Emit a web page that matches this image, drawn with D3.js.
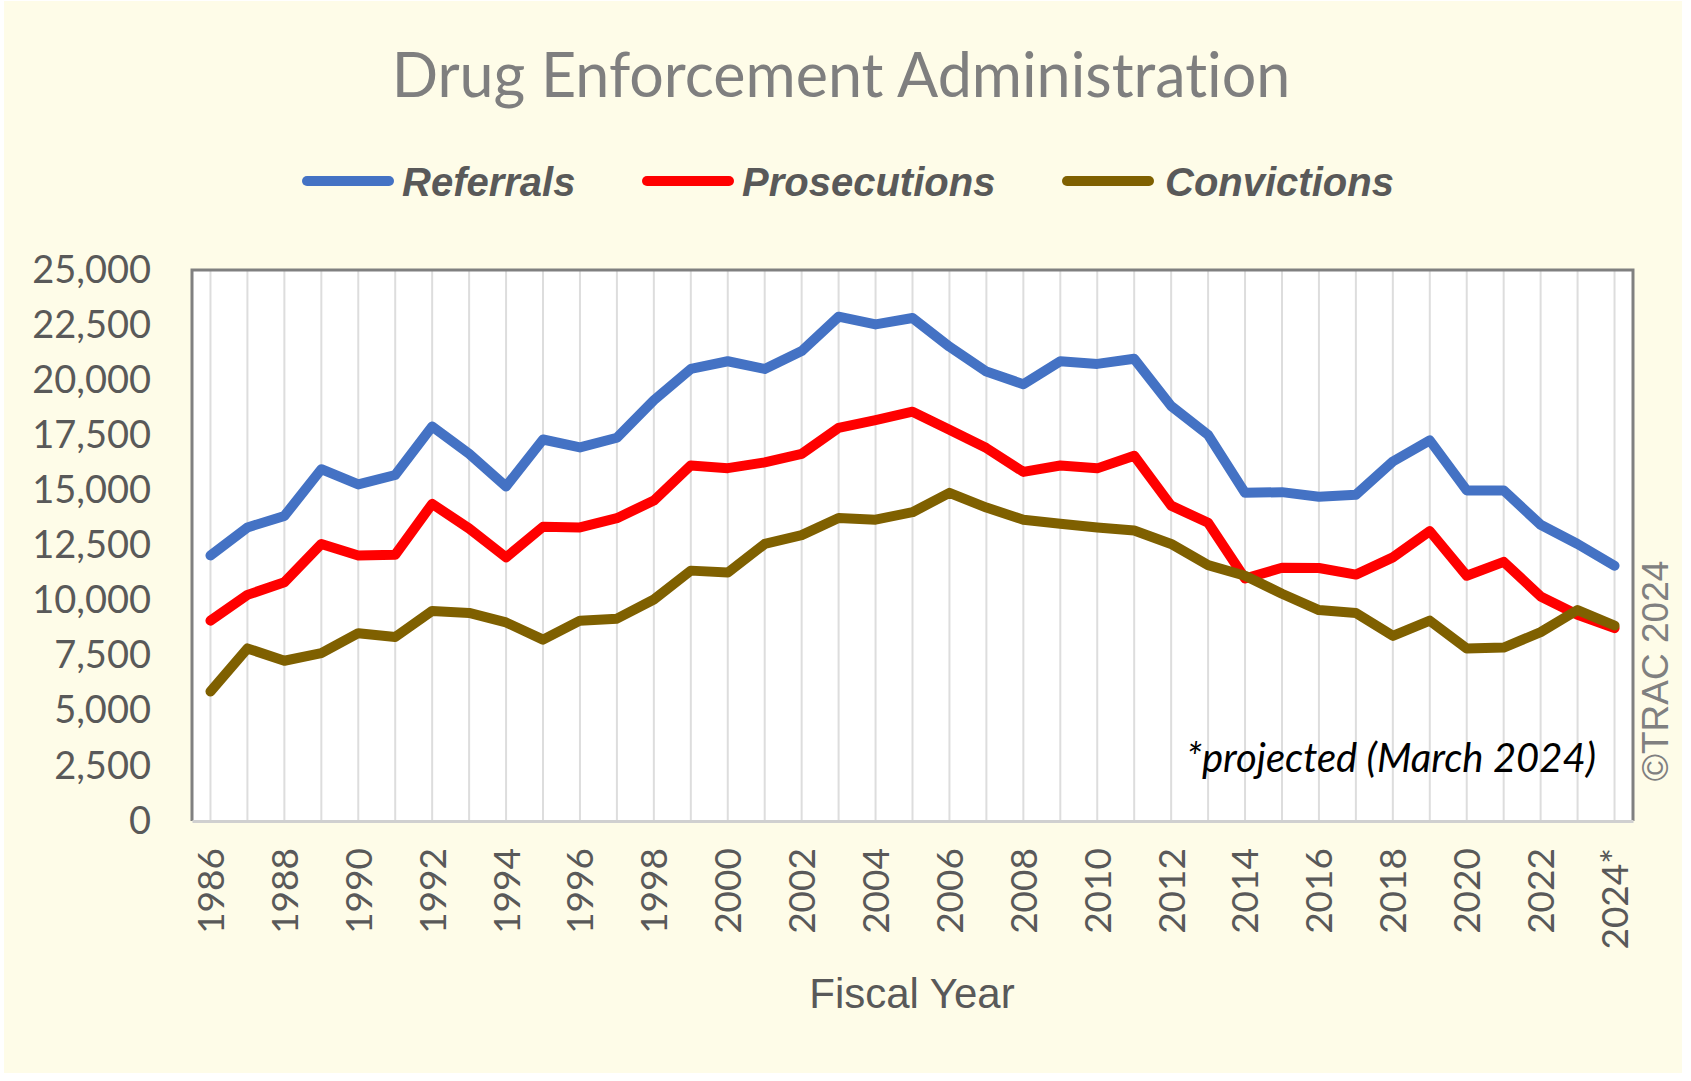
<!DOCTYPE html>
<html>
<head>
<meta charset="utf-8">
<script src="https://cdn.jsdelivr.net/npm/d3@7"></script>
<style>
  html, body { margin: 0; padding: 0; background: #ffffff; }
  svg { display: block; }
  text { font-variant-ligatures: none; }
</style>
</head>
<body>
<svg id="chart" width="1691" height="1081"></svg>
<script>
const years = d3.range(1986, 2025);
const yearLabels = years.map(y => (y === 2024 ? "2024*" : String(y)));
const yTicks = [0, 2500, 5000, 7500, 10000, 12500, 15000, 17500, 20000, 22500, 25000];

const referrals = [12050,13320,13840,15960,15270,15700,17900,16660,15180,17310,
  16950,17390,19090,20510,20860,20510,21320,22880,22530,22820,
  21520,20390,19820,20860,20740,20970,18830,17520,14890,14920,
  14710,14800,16310,17270,15000,15000,13440,12570,11580];
const prosecutions = [9090,10260,10830,12570,12050,12080,14390,13270,11960,13350,
  13320,13740,14540,16130,16010,16270,16660,17840,18190,18570,
  17750,16920,15840,16130,16000,16570,14310,13530,11000,11490,
  11480,11180,11960,13150,11130,11760,10190,9360,8750];
const convictions = [5880,7830,7270,7620,8520,8350,9530,9440,9010,8230,
  9090,9180,10050,11360,11270,12570,12970,13750,13670,14010,
  14890,14220,13670,13490,13320,13180,12570,11610,11130,10310,
  9570,9440,8400,9090,7830,7870,8570,9570,8870];

const seriesNames = ["Referrals", "Prosecutions", "Convictions"];
const seriesColors = ["#4472C4", "#FF0000", "#7F6000"];
const seriesValues = [referrals, prosecutions, convictions];

const svg = d3.select("#chart");

// background
svg.append("rect").attr("x", 0).attr("y", 0).attr("width", 1691).attr("height", 1081).attr("fill", "#ffffff");
svg.append("rect").attr("x", 4).attr("y", 1).attr("width", 1678).attr("height", 1072).attr("fill", "#FEFCE8");

const plot = { left: 192, right: 1633, top: 270, bottom: 821 };

const x = d3.scalePoint().domain(years).range([plot.left, plot.right]).padding(0.5);
const y = d3.scaleLinear().domain([0, 25000]).range([plot.bottom, plot.top]);

// plot area
svg.append("rect").attr("x", plot.left).attr("y", plot.top)
  .attr("width", plot.right - plot.left).attr("height", plot.bottom - plot.top)
  .attr("fill", "#ffffff");

// vertical gridlines
svg.append("g").selectAll("line").data(years).join("line")
  .attr("x1", d => x(d)).attr("x2", d => x(d))
  .attr("y1", plot.top).attr("y2", plot.bottom)
  .attr("stroke", "#DDDDDD").attr("stroke-width", 2);

// frame
svg.append("path")
  .attr("d", `M${plot.left},${plot.bottom} L${plot.left},${plot.top} L${plot.right},${plot.top} L${plot.right},${plot.bottom}`)
  .attr("fill", "none").attr("stroke", "#808080").attr("stroke-width", 3);

// x axis
const xAxis = d3.axisBottom(x).tickSize(0).tickFormat((d, i) => yearLabels[i]);
const gx = svg.append("g").attr("transform", `translate(0,${plot.bottom})`).call(xAxis);
gx.select(".domain").attr("stroke", "#D0D0D0").attr("stroke-width", 3);
gx.selectAll(".tick").filter((d, i) => i % 2 === 1).remove();
gx.selectAll(".tick text")
  .attr("transform", "rotate(-90)")
  .attr("x", -27).attr("y", 0).attr("dy", "0.35em")
  .attr("text-anchor", "end")
  .attr("font-family", "Lato, 'Open Sans', sans-serif")
  .attr("font-size", 37)
  .attr("fill", "#595959");

// y axis labels
const yAxis = d3.axisLeft(y).tickValues(yTicks).tickSize(0).tickFormat(d3.format(","));
const gy = svg.append("g").attr("transform", `translate(${plot.left},0)`).call(yAxis);
gy.select(".domain").remove();
gy.selectAll(".tick text")
  .attr("x", -41)
  .attr("font-family", "Lato, 'Open Sans', sans-serif")
  .attr("font-size", 38)
  .attr("fill", "#595959");

// lines
const line = d3.line().x((d, i) => x(years[i])).y(d => y(d));
seriesValues.forEach((vals, k) => {
  svg.append("path").datum(vals)
    .attr("d", line)
    .attr("fill", "none")
    .attr("stroke", seriesColors[k])
    .attr("stroke-width", 10)
    .attr("stroke-linejoin", "round")
    .attr("stroke-linecap", "round");
});

// title
svg.append("text").attr("x", 841).attr("y", 97)
  .attr("text-anchor", "middle")
  .attr("font-family", "Lato, 'Open Sans', sans-serif")
  .attr("font-size", 61)
  .attr("fill", "#7F7F7F")
  .text("Drug Enforcement Administration");

// legend
const legendPos = [ {lx: 307, tx: 402}, {lx: 647, tx: 742}, {lx: 1067, tx: 1165} ];
seriesNames.forEach((name, k) => {
  svg.append("line")
    .attr("x1", legendPos[k].lx).attr("x2", legendPos[k].lx + 82)
    .attr("y1", 181).attr("y2", 181)
    .attr("stroke", seriesColors[k]).attr("stroke-width", 10)
    .attr("stroke-linecap", "round");
  svg.append("text").attr("x", legendPos[k].tx).attr("y", 196)
    .attr("font-family", "'Liberation Sans', Arial, sans-serif")
    .attr("font-weight", "bold").attr("font-style", "italic")
    .attr("font-size", 40)
    .attr("fill", "#595959")
    .text(name);
});

// x axis title
svg.append("text").attr("x", 912).attr("y", 1008)
  .attr("text-anchor", "middle")
  .attr("font-family", "'Liberation Sans', Arial, sans-serif")
  .attr("font-size", 42)
  .attr("fill", "#595959")
  .text("Fiscal Year");

// projected note
svg.append("text").attr("x", 1596).attr("y", 772)
  .attr("text-anchor", "end")
  .attr("font-family", "Lato, 'Open Sans', sans-serif")
  .attr("font-style", "italic")
  .attr("font-size", 40)
  .attr("fill", "#000000")
  .text("*projected (March 2024)");

// copyright
svg.append("text")
  .attr("transform", "translate(1668,671) rotate(-90)")
  .attr("text-anchor", "middle")
  .attr("font-family", "'Liberation Sans', Arial, sans-serif")
  .attr("font-size", 37)
  .attr("fill", "#808080")
  .text("©TRAC 2024");
</script>
</body>
</html>
